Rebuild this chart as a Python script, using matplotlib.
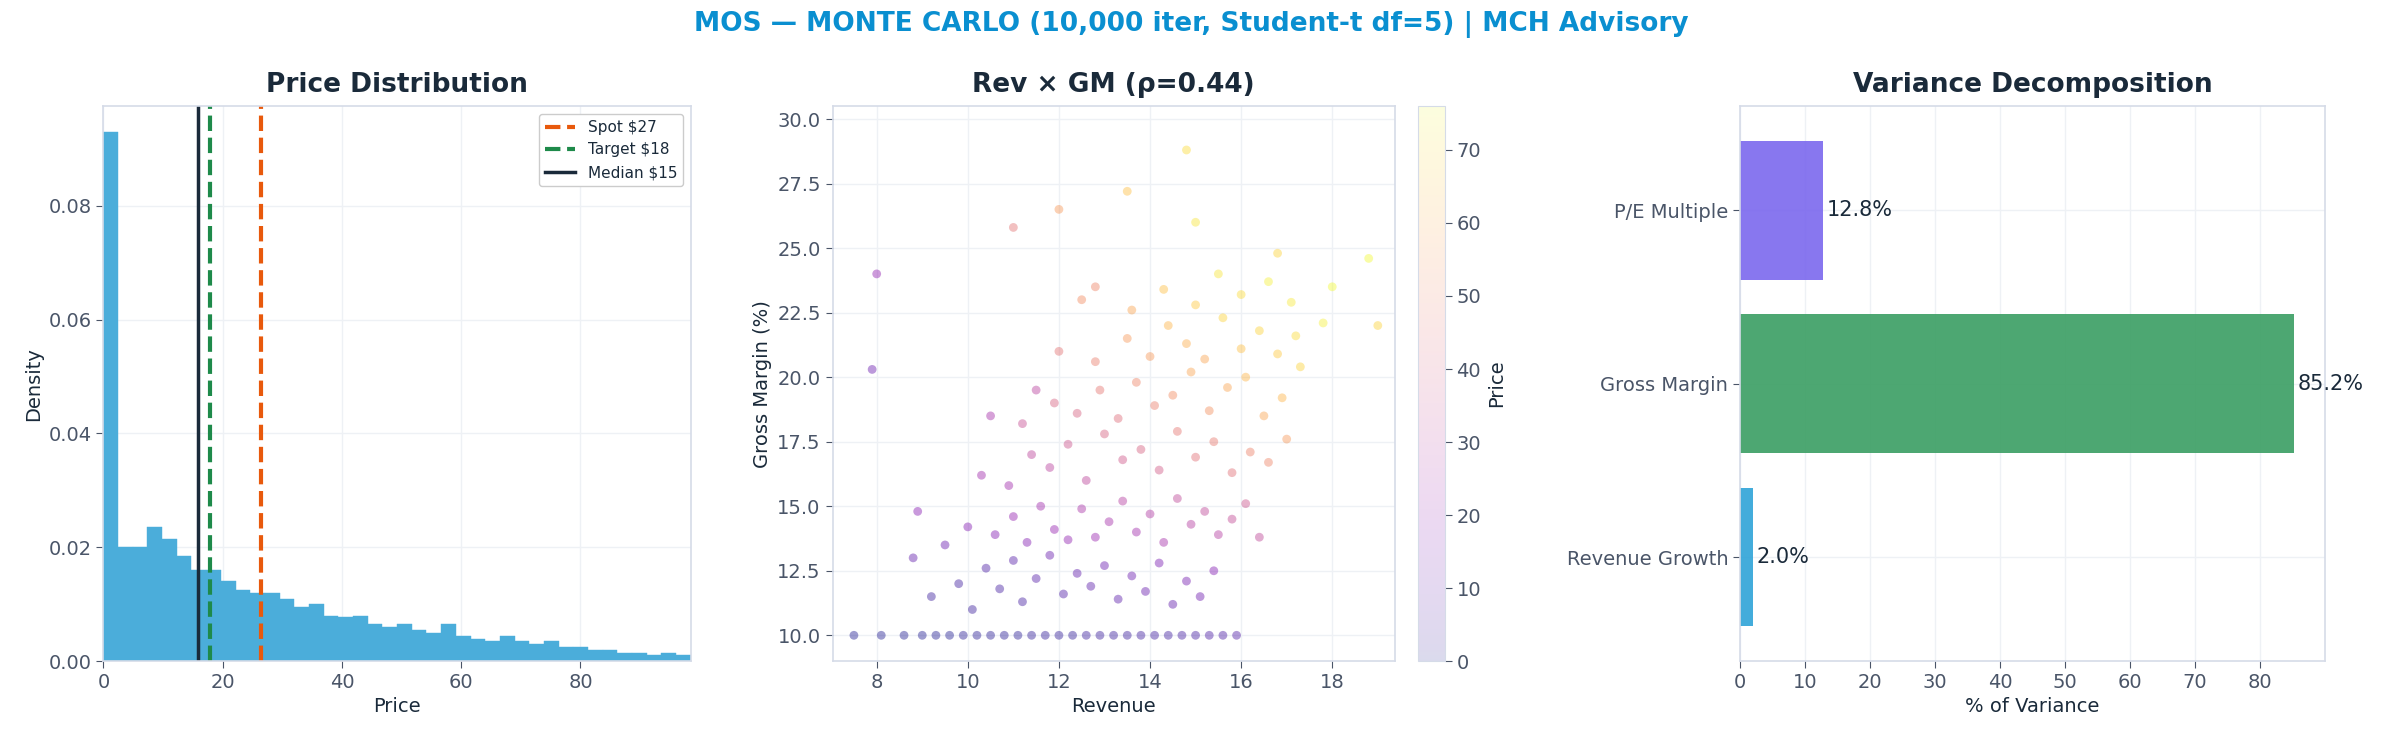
import numpy as np
import matplotlib
matplotlib.use("Agg")
import matplotlib.pyplot as plt

# ---------------- data ----------------
hist_heights = [0.093, 0.020, 0.020, 0.0235, 0.0215, 0.0185, 0.016, 0.016, 0.014, 0.0125,
                0.012, 0.012, 0.011, 0.0095, 0.010, 0.008, 0.0078, 0.008, 0.0065, 0.006,
                0.0065, 0.0055, 0.005, 0.0065, 0.0045, 0.0038, 0.0035, 0.0045, 0.0035, 0.003,
                0.0035, 0.0025, 0.0025, 0.002, 0.002, 0.0015, 0.0015, 0.001, 0.0015, 0.001]
hist_max = 98.5
spot, target, median = 26.5, 17.8, 15.8

rev = [7.5, 8.1, 8.6, 9.0, 9.3, 9.6, 9.9, 10.2, 10.5, 10.8, 11.1, 11.4, 11.7, 12.0, 12.3, 12.6,
       12.9, 13.2, 13.5, 13.8, 14.1, 14.4, 14.7, 15.0, 15.3, 15.6, 15.9,
       9.2, 9.8, 10.1, 10.4, 10.7, 11.0, 11.2, 11.5, 11.8, 12.1, 12.4, 12.7, 13.0, 13.3, 13.6,
       13.9, 14.2, 14.5, 14.8, 15.1, 15.4,
       8.9, 9.5, 10.0, 10.6, 11.0, 11.3, 11.6, 11.9, 12.2, 12.5, 12.8, 13.1, 13.4, 13.7, 14.0,
       14.3, 14.6, 14.9, 15.2, 15.5, 15.8, 16.1, 16.4,
       10.3, 10.9, 11.4, 11.8, 12.2, 12.6, 13.0, 13.4, 13.8, 14.2, 14.6, 15.0, 15.4, 15.8, 16.2,
       16.6, 17.0,
       11.2, 11.9, 12.4, 12.9, 13.3, 13.7, 14.1, 14.5, 14.9, 15.3, 15.7, 16.1, 16.5, 16.9, 17.3,
       12.0, 12.8, 13.5, 14.0, 14.4, 14.8, 15.2, 15.6, 16.0, 16.4, 16.8, 17.2, 17.8,
       12.5, 13.6, 14.3, 15.0, 15.5, 16.0, 16.6, 17.1, 18.0, 18.8,
       8.0, 8.8, 11.0, 12.0, 13.5, 15.0, 7.9, 16.8, 10.5, 14.8, 12.8, 11.5, 19.0]
gm = [10.0, 10.0, 10.0, 10.0, 10.0, 10.0, 10.0, 10.0, 10.0, 10.0, 10.0, 10.0, 10.0, 10.0, 10.0, 10.0,
      10.0, 10.0, 10.0, 10.0, 10.0, 10.0, 10.0, 10.0, 10.0, 10.0, 10.0,
      11.5, 12.0, 11.0, 12.6, 11.8, 12.9, 11.3, 12.2, 13.1, 11.6, 12.4, 11.9, 12.7, 11.4, 12.3,
      11.7, 12.8, 11.2, 12.1, 11.5, 12.5,
      14.8, 13.5, 14.2, 13.9, 14.6, 13.6, 15.0, 14.1, 13.7, 14.9, 13.8, 14.4, 15.2, 14.0, 14.7,
      13.6, 15.3, 14.3, 14.8, 13.9, 14.5, 15.1, 13.8,
      16.2, 15.8, 17.0, 16.5, 17.4, 16.0, 17.8, 16.8, 17.2, 16.4, 17.9, 16.9, 17.5, 16.3, 17.1,
      16.7, 17.6,
      18.2, 19.0, 18.6, 19.5, 18.4, 19.8, 18.9, 19.3, 20.2, 18.7, 19.6, 20.0, 18.5, 19.2, 20.4,
      21.0, 20.6, 21.5, 20.8, 22.0, 21.3, 20.7, 22.3, 21.1, 21.8, 20.9, 21.6, 22.1,
      23.0, 22.6, 23.4, 22.8, 24.0, 23.2, 23.7, 22.9, 23.5, 24.6,
      24.0, 13.0, 25.8, 26.5, 27.2, 26.0, 20.3, 24.8, 18.5, 28.8, 23.5, 19.5, 22.0]
price = [0, 0, 0, 0, 0, 0, 1, 1, 1, 1, 1, 2, 2, 2, 2, 3, 3, 3, 3, 4, 4, 4, 5, 5, 6, 6, 7,
         3, 4, 3, 6, 5, 8, 5, 8, 11, 7, 10, 9, 12, 9, 12, 11, 15, 10, 14, 13, 17,
         18, 12, 17, 17, 21, 17, 24, 21, 20, 26, 22, 25, 29, 24, 28, 25, 32, 29, 32, 29, 33, 36, 32,
         24, 24, 31, 30, 36, 31, 40, 37, 40, 38, 46, 44, 47, 44, 49, 50, 55,
         34, 40, 40, 46, 43, 50, 48, 52, 58, 53, 58, 62, 58, 62, 68,
         45, 48, 55, 55, 62, 60, 58, 68, 64, 68, 66, 70, 74,
         52, 58, 64, 66, 72, 70, 74, 73, 76, 76,
         20, 10, 45, 55, 64, 72, 12, 68, 25, 70, 50, 30, 68]

var_labels = ["Revenue Growth", "Gross Margin", "P/E Multiple"]
var_values = [2.0, 85.2, 12.8]
var_colors = ["#2ea3d8", "#3a9e63", "#7b68ee"]

# ---------------- style ----------------
plt.rcParams['font.family'] = ['DejaVu Sans']
tick_col = "#4a5568"
dark = "#1a2a3a"
spine_col = "#d5dbe8"
grid_col = "#eef1f5"

fig = plt.figure(figsize=(23.82, 7.42), dpi=100)
B, H = 0.109, 0.748
ax1 = fig.add_axes([0.0434, B, 0.2466, H])
ax2 = fig.add_axes([0.3495, B, 0.2360, H])
cax = fig.add_axes([0.5955, B, 0.0110, H])
ax3 = fig.add_axes([0.7305, B, 0.2455, H])

def style(ax):
    for s in ax.spines.values():
        s.set_color(spine_col)
        s.set_linewidth(1.2)
    ax.tick_params(colors=tick_col, labelsize=14, length=5, color=tick_col)
    ax.grid(True, color=grid_col, linewidth=1)
    ax.set_axisbelow(True)

# Histogram
w = hist_max / len(hist_heights)
edges = np.arange(len(hist_heights)) * w
ax1.bar(edges, hist_heights, width=w, align='edge', color="#4badda", edgecolor="#4badda", linewidth=0.3)
ax1.axvline(spot, color="#e8590c", ls="--", lw=3, label="Spot $27")
ax1.axvline(target, color="#1e8a4a", ls="--", lw=3, label="Target $18")
ax1.axvline(median, color=dark, ls="-", lw=2.5, label="Median $15")
ax1.set_xlim(0, hist_max)
ax1.set_ylim(0, 0.0975)
ax1.set_xticks([0, 20, 40, 60, 80])
ax1.set_yticks([0.0, 0.02, 0.04, 0.06, 0.08])
ax1.set_yticklabels(["0.00", "0.02", "0.04", "0.06", "0.08"])
style(ax1)
ax1.set_xlabel("Price", fontsize=14, color=dark)
ax1.set_ylabel("Density", fontsize=14, color=dark)
ax1.set_title("Price Distribution", fontsize=19, fontweight="bold", color=dark, pad=10)
leg = ax1.legend(loc="upper right", fontsize=11, framealpha=1, labelcolor=dark)
leg.get_frame().set_edgecolor("#cccccc")

# Scatter
sc = ax2.scatter(rev, gm, c=price, cmap="plasma", vmin=0, vmax=76, s=40, alpha=0.4, edgecolors="none")
ax2.set_xlim(7.03, 19.37)
ax2.set_ylim(9.0, 30.5)
ax2.set_xticks([8, 10, 12, 14, 16, 18])
ax2.set_yticks([10.0, 12.5, 15.0, 17.5, 20.0, 22.5, 25.0, 27.5, 30.0])
style(ax2)
ax2.set_xlabel("Revenue", fontsize=14, color=dark)
ax2.set_ylabel("Gross Margin (%)", fontsize=14, color=dark)
ax2.set_title("Rev × GM (ρ=0.44)", fontsize=19, fontweight="bold", color=dark, pad=10)
cb = fig.colorbar(sc, cax=cax)
cb.solids.set_alpha(0.15)
cb.set_ticks([0, 10, 20, 30, 40, 50, 60, 70])
cb.outline.set_edgecolor(spine_col)
cax.tick_params(colors=tick_col, labelsize=14, length=5)
cb.set_label("Price", fontsize=14, color=dark)

# Variance bars
y = np.arange(len(var_labels))
ax3.barh(y, var_values, height=0.8, color=var_colors, alpha=0.9)
for yi, v in zip(y, var_values):
    ax3.text(v + 0.6, yi, f"{v:.1f}%", va="center", fontsize=15, color=dark)
ax3.set_yticks(y)
ax3.set_yticklabels(var_labels)
ax3.set_xlim(0, 90)
ax3.set_ylim(-0.6, 2.6)
ax3.set_xticks(range(0, 90, 10))
style(ax3)
ax3.set_xlabel("% of Variance", fontsize=14, color=dark)
ax3.set_title("Variance Decomposition", fontsize=19, fontweight="bold", color=dark, pad=10)

fig.suptitle("MOS — MONTE CARLO (10,000 iter, Student-t df=5) | MCH Advisory",
             fontsize=19, fontweight="bold", color="#0a8fd0", y=0.985)

fig.savefig("out.png", dpi=100, facecolor="white")
